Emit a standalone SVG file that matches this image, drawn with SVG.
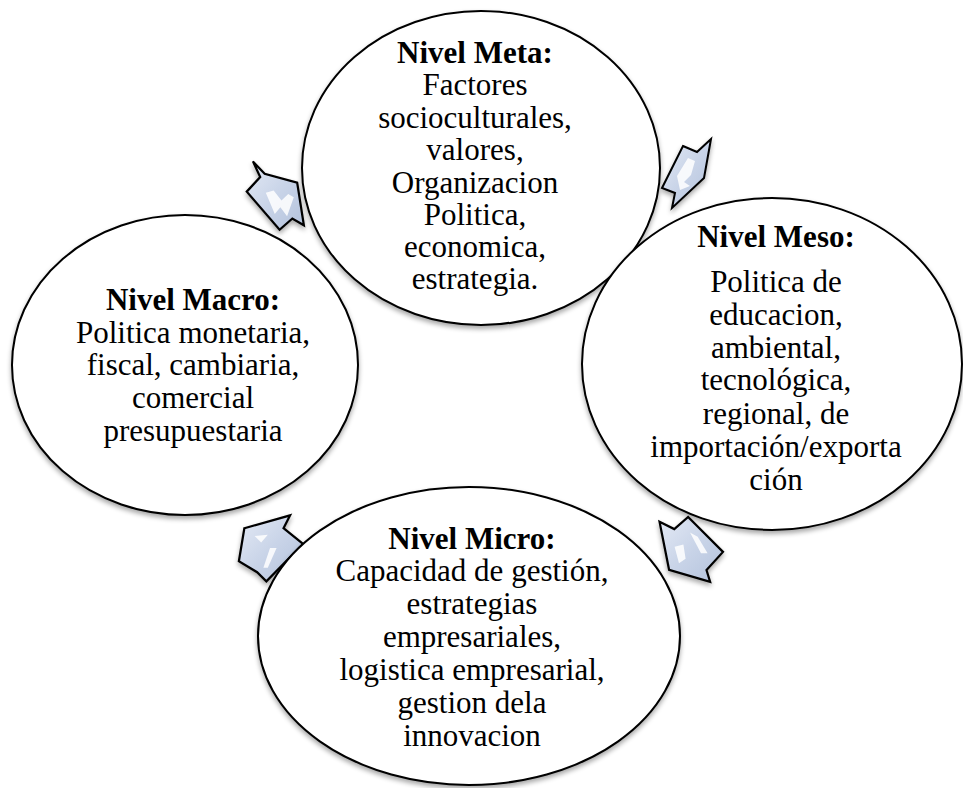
<svg xmlns="http://www.w3.org/2000/svg" width="963" height="788" viewBox="0 0 963 788">
  <defs>
    <filter id="shadow" x="-10%" y="-10%" width="120%" height="125%">
      <feGaussianBlur in="SourceAlpha" stdDeviation="2.5"/>
      <feOffset dx="0" dy="3" result="b"/>
      <feComponentTransfer><feFuncA type="linear" slope="0.35"/></feComponentTransfer>
      <feMerge><feMergeNode/><feMergeNode in="SourceGraphic"/></feMerge>
    </filter>
    <linearGradient id="arrowFill" x1="0" y1="0" x2="1" y2="1">
      <stop offset="0" stop-color="#e4eaf5"/>
      <stop offset="0.5" stop-color="#c9d4e8"/>
      <stop offset="1" stop-color="#b3c2dc"/>
    </linearGradient>
  </defs>
  <style>
    .node { fill: #ffffff; stroke: #000000; stroke-width: 2; }
    .t { font-family: "Liberation Serif", "Times New Roman", serif; font-size: 31px; fill: #000000; text-anchor: middle; }
    .h { font-weight: bold; }
    .arrow { fill: url(#arrowFill); stroke: #000000; stroke-width: 2; stroke-linejoin: miter; }
    .shine { fill: #ffffff; opacity: 0.85; }
  </style>

  <rect width="963" height="788" fill="#ffffff"/>

  <!-- cycle connectors -->
  <g id="connectors">
    <g id="arrow-macro-meta" filter="url(#shadow)" transform="translate(277,195) scale(1.12) translate(-277,-195)">
      <polygon class="arrow" points="255.5,165 266,176 295,184 301,222 290.7,216 279.3,226 250,192 262,179"/>
      <polygon class="shine" points="267,193 274,191 281,200 287,194 292,197 286,214 280,206 275,212"/>
    </g>
    <g id="arrow-meta-meso" filter="url(#shadow)">
      <polygon class="arrow" points="683,146 697,152 711,139 704,178 672,208 675,193 662,188"/>
      <polygon class="shine" points="688,158 695,161 691,175 684,182 690,186 680,190 677,176"/>
    </g>
    <g id="arrow-meso-micro" filter="url(#shadow)" transform="translate(690,550) scale(1.1) translate(-690,-550)">
      <polygon class="arrow" points="662.3,524.3 675.7,531 688.3,520 720,551.7 705,568.3 708.3,579 671,568"/>
      <polygon class="shine" points="676,547 684,545 686,558 680,562"/>
      <polygon class="shine" points="690,534 697,538 706,553 700,553"/>
    </g>
    <g id="arrow-micro-macro" filter="url(#shadow)" transform="translate(270,548) scale(1.1) translate(-270,-548)">
      <polygon class="arrow" points="246.7,530 288.3,518.3 282.3,530 300,544.3 266.7,578.3 258.3,570 241.7,560"/>
      <polygon class="shine" points="256,537 268,536 262,543"/>
      <polygon class="shine" points="270,548 276,548 268,566 264,566"/>
    </g>
  </g>

  <!-- Nivel Meta -->
  <g id="node-meta">
    <ellipse class="node" cx="481" cy="168" rx="179" ry="157" filter="url(#shadow)"/>
    <text class="t h" x="475" y="63">Nivel Meta:</text>
    <text class="t" x="475" y="95">Factores</text>
    <text class="t" x="475" y="128">socioculturales,</text>
    <text class="t" x="475" y="160">valores,</text>
    <text class="t" x="475" y="193">Organizacion</text>
    <text class="t" x="475" y="225">Politica,</text>
    <text class="t" x="475" y="257">economica,</text>
    <text class="t" x="475" y="289">estrategia.</text>
  </g>

  <!-- Nivel Macro -->
  <g id="node-macro">
    <ellipse class="node" cx="185" cy="365" rx="173" ry="150" filter="url(#shadow)"/>
    <text class="t h" x="193" y="310">Nivel Macro:</text>
    <text class="t" x="193" y="343">Politica monetaria,</text>
    <text class="t" x="193" y="375">fiscal, cambiaria,</text>
    <text class="t" x="193" y="408">comercial</text>
    <text class="t" x="193" y="441">presupuestaria</text>
  </g>

  <!-- Nivel Meso -->
  <g id="node-meso">
    <ellipse class="node" cx="772" cy="364" rx="190" ry="166" filter="url(#shadow)"/>
    <text class="t h" x="776" y="247">Nivel Meso:</text>
    <text class="t" x="776" y="292">Politica de</text>
    <text class="t" x="776" y="325">educacion,</text>
    <text class="t" x="776" y="358">ambiental,</text>
    <text class="t" x="776" y="390">tecnológica,</text>
    <text class="t" x="776" y="424">regional, de</text>
    <text class="t" x="776" y="457">importación/exporta</text>
    <text class="t" x="776" y="490">ción</text>
  </g>

  <!-- Nivel Micro -->
  <g id="node-micro">
    <ellipse class="node" cx="469" cy="636" rx="211" ry="149" filter="url(#shadow)"/>
    <text class="t h" x="472" y="549">Nivel Micro:</text>
    <text class="t" x="472" y="581">Capacidad de gestión,</text>
    <text class="t" x="472" y="614">estrategias</text>
    <text class="t" x="472" y="647">empresariales,</text>
    <text class="t" x="472" y="680">logistica empresarial,</text>
    <text class="t" x="472" y="713">gestion dela</text>
    <text class="t" x="472" y="746">innovacion</text>
  </g>
</svg>
